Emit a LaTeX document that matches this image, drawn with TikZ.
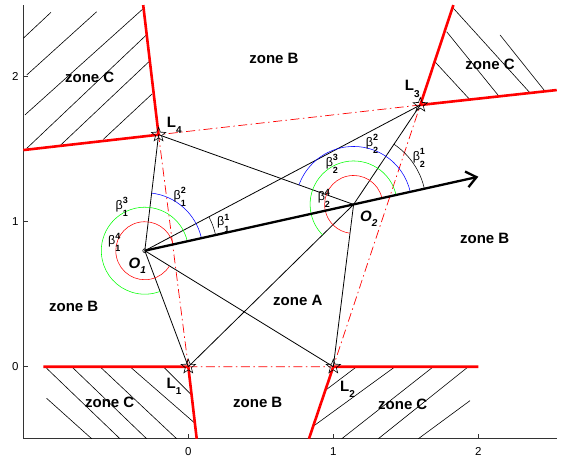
\documentclass[tikz,border=0pt]{standalone}
\usepackage{fontspec}
\setmainfont{Liberation Sans}
\usetikzlibrary{arrows.meta,shapes.geometric,calc}
\newcommand{\bet}[2]{β\rlap{\raisebox{5.5pt}{\fontsize{9}{9}\selectfont\bfseries #2}}\raisebox{-7pt}{\fontsize{9}{9}\selectfont\bfseries #1}}
\newcommand{\Lab}[1]{L\raisebox{-6.3pt}{\fontsize{10}{10}\selectfont #1}}
\newcommand{\Olab}[1]{O\raisebox{-5pt}{\fontsize{10}{10}\selectfont #1}}
\begin{document}
\begin{tikzpicture}[x=145pt,y=145pt,
  blk/.style={black,line width=0.8pt},
  redthick/.style={red,line width=2.6pt,line join=round},
  reddash/.style={red,line width=0.7pt,dash pattern=on 9pt off 3.5pt on 1.5pt off 3.5pt},
  hatch/.style={black,line width=0.6pt},
  axisline/.style={line width=0.8pt,black!80},
  arcline/.style={line width=0.55pt},
  zonelab/.style={inner sep=0pt,font=\fontsize{15}{15}\selectfont\bfseries},
  llab/.style={inner sep=0pt,anchor=base west,font=\fontsize{15}{15}\selectfont\bfseries},
  olab/.style={inner sep=0pt,anchor=base west,font=\fontsize{15}{15}\selectfont\bfseries\itshape},
  blab/.style={inner sep=0pt,font=\fontsize{12.5}{12.5}\selectfont},
  landmark/.style={star,star points=5,star point ratio=2.4,draw=black,line width=0.6pt,minimum size=15pt,inner sep=0pt},
  ticklab/.style={inner sep=0pt,font=\fontsize{11.5}{11.5}\selectfont}
]
\useasboundingbox (-1.2986,-0.6503) rectangle (2.6048,2.5290);

% geometry
\coordinate (L1) at (0,0);
\coordinate (L2) at (1,0);
\coordinate (L3) at (1.6,1.805);
\coordinate (L4) at (-0.205,1.6);
\coordinate (O2) at (1.14,1.119);
\coordinate (H) at (2.0,1.31);

% axes
\coordinate (AxTL) at (-1.138,2.494);
\coordinate (AxBL) at (-1.138,-0.497);
\coordinate (AxBR) at (2.541,-0.497);
\draw[axisline] (AxTL) -- (AxBL) -- (AxBR);
\foreach \v in {0,1,2}{
  \draw[axisline] (-1.138,\v) -- ++(5pt,0);
  \node[ticklab,anchor=east] (ty\v) at ([xshift=-4.5pt]-1.138,\v) {\v};
  \draw[axisline] (\v,-0.497) -- ++(0,5pt);
  \node[ticklab,anchor=north] (tx\v) at ([yshift=-8.5pt]\v,-0.497) {\v};
}

% hatching top-left
\draw[hatch] (-1.138,2.265) -- (-0.947,2.444);
\draw[hatch] (-1.114,2.012) -- (-0.632,2.448);
\draw[hatch] (-1.126,1.737) -- (-0.308,2.472);
\draw[hatch] (-1.114,1.506) -- (-0.289,2.288);
\draw[hatch] (-0.885,1.524) -- (-0.272,2.103);
\draw[hatch] (-0.586,1.568) -- (-0.250,1.881);
% hatching top-right
\draw[hatch] (1.828,2.472) -- (2.357,1.888);
\draw[hatch] (1.782,2.310) -- (2.145,1.862);
\draw[hatch] (1.701,2.103) -- (1.938,1.846);
\draw[hatch] (2.150,2.288) -- (2.460,1.900);
% hatching bottom-left
\draw[hatch] (-0.977,-0.218) -- (-0.666,-0.497);
\draw[hatch] (-0.977,-0.011) -- (-0.471,-0.497);
\draw[hatch] (-0.804,0) -- (-0.287,-0.497);
\draw[hatch] (-0.609,0) -- (-0.080,-0.497);
\draw[hatch] (-0.402,0) -- (0.046,-0.390);
\draw[hatch] (-0.172,0) -- (0.023,-0.195);
% hatching bottom-right
\draw[hatch] (0.948,-0.161) -- (1.161,0);
\draw[hatch] (0.864,-0.409) -- (1.426,0);
\draw[hatch] (1.058,-0.497) -- (1.690,0);
\draw[hatch] (1.310,-0.497) -- (1.931,0);
\draw[hatch] (1.586,-0.497) -- (1.943,-0.234);

% zone labels
\node[zonelab] (zC1) at (-0.68,1.997) {zone C};
\node[zonelab] (zC2) at (2.081,2.086) {zone C};
\node[zonelab] (zC3) at (-0.542,-0.247) {zone C};
\node[zonelab] (zC4) at (1.479,-0.259) {zone C};
\node[zonelab] (zB1) at (0.591,2.127) {zone B};
\node[zonelab] (zB2) at (2.044,0.883) {zone B};
\node[zonelab] (zB3) at (-0.79,0.417) {zone B};
\node[zonelab] (zB4) at (0.479,-0.247) {zone B};
\node[zonelab] (zA) at (0.755,0.454) {zone A};

% red boundaries
\coordinate (R4a) at (-0.311,2.494);
\coordinate (R4b) at (-1.138,1.494);
\coordinate (R3a) at (1.828,2.494);
\coordinate (R3b) at (2.541,1.908);
\coordinate (R1a) at (-1.0,0);
\coordinate (R1b) at (0.058,-0.497);
\coordinate (R2a) at (2.0,0);
\coordinate (R2b) at (0.832,-0.497);
\draw[redthick] (R4a) -- (L4) -- (R4b);
\draw[redthick] (R3a) -- (L3) -- (R3b);
\draw[redthick] (R1a) -- (L1) -- (R1b);
\draw[redthick] (R2a) -- (L2) -- (R2b);

% dash-dot quadrilateral
\draw[reddash] (L1) -- (L2) -- (L3) -- (L4) -- cycle;

% robot O1
\node[circle,draw=black,line width=0.6pt,inner sep=0pt,minimum size=4pt] (O1) at (-0.3,0.8) {};

% bearing lines
\draw[blk] (O1.center) -- (L4);
\draw[blk] (O1.center) -- (L1);
\draw[blk] (O1.center) -- (L2);
\draw[blk] (O1.center) -- (L3);
\draw[blk] (O2) -- (L4);
\draw[blk] (O2) -- (L3);
\draw[blk] (O2) -- (L2);
\draw[blk] (O2) -- (L1);

% angle arcs at O1
\draw[arcline,black] let \p1=($(H)-(O1.center)$), \p2=($(L3)-(O1.center)$), \n1={atan2(\y1,\x1)}, \n2={atan2(\y2,\x2)} in ($(O1.center)+(\n1:0.5)$) arc[start angle=\n1, end angle=\n2, radius=0.5];
\draw[arcline,blue] let \p1=($(H)-(O1.center)$), \p2=($(L4)-(O1.center)$), \n1={atan2(\y1,\x1)}, \n2={atan2(\y2,\x2)} in ($(O1.center)+(\n1:0.4)$) arc[start angle=\n1, end angle=\n2, radius=0.4];
\draw[arcline,green] let \p1=($(H)-(O1.center)$), \p2=($(L1)-(O1.center)$), \n1={atan2(\y1,\x1)}, \n2={atan2(\y2,\x2)+360} in ($(O1.center)+(\n1:0.3)$) arc[start angle=\n1, end angle=\n2, radius=0.3];
\draw[arcline,red] let \p1=($(H)-(O1.center)$), \p2=($(L2)-(O1.center)$), \n1={atan2(\y1,\x1)}, \n2={atan2(\y2,\x2)+360} in ($(O1.center)+(\n1:0.2)$) arc[start angle=\n1, end angle=\n2, radius=0.2];
% angle arcs at O2
\draw[arcline,black] let \p1=($(H)-(O2)$), \p2=($(L3)-(O2)$), \n1={atan2(\y1,\x1)}, \n2={atan2(\y2,\x2)} in ($(O2)+(\n1:0.5)$) arc[start angle=\n1, end angle=\n2, radius=0.5];
\draw[arcline,blue] let \p1=($(H)-(O2)$), \p2=($(L4)-(O2)$), \n1={atan2(\y1,\x1)}, \n2={atan2(\y2,\x2)} in ($(O2)+(\n1:0.4)$) arc[start angle=\n1, end angle=\n2, radius=0.4];
\draw[arcline,green] let \p1=($(H)-(O2)$), \p2=($(L1)-(O2)$), \n1={atan2(\y1,\x1)}, \n2={atan2(\y2,\x2)+360} in ($(O2)+(\n1:0.3)$) arc[start angle=\n1, end angle=\n2, radius=0.3];
\draw[arcline,red] let \p1=($(H)-(O2)$), \p2=($(L2)-(O2)$), \n1={atan2(\y1,\x1)}, \n2={atan2(\y2,\x2)+360} in ($(O2)+(\n1:0.2)$) arc[start angle=\n1, end angle=\n2, radius=0.2];

% heading arrow
\draw[black,line width=2.3pt,-{Straight Barb[length=10pt,width=16pt]}] (O1.center) -- (H);

% landmark stars
\node[landmark] (M1) at (L1) {};
\node[landmark] (M2) at (L2) {};
\node[landmark] (M3) at (L3) {};
\node[landmark] (M4) at (L4) {};

% labels
\node[llab] (tL1) at (-0.150,-0.149) {\Lab{1}};
\node[llab] (tL2) at (1.046,-0.172) {\Lab{2}};
\node[llab] (tL3) at (1.492,1.903) {\Lab{3}};
\node[llab] (tL4) at (-0.149,1.650) {\Lab{4}};
\node[olab] (tO1) at (-0.413,0.674) {\Olab{1}};
\node[olab] (tO2) at (1.184,1.0) {\Olab{2}};
\node[blab] (b11) at (0.241,0.988) {\bet{1}{1}};
\node[blab] (b12) at (-0.059,1.170) {\bet{1}{2}};
\node[blab] (b13) at (-0.459,1.103) {\bet{1}{3}};
\node[blab] (b14) at (-0.511,0.857) {\bet{1}{4}};
\node[blab] (b21) at (1.59,1.44) {\bet{2}{1}};
\node[blab] (b22) at (1.267,1.538) {\bet{2}{2}};
\node[blab] (b23) at (0.99,1.40) {\bet{2}{3}};
\node[blab] (b24) at (0.935,1.161) {\bet{2}{4}};
\end{tikzpicture}
\end{document}
